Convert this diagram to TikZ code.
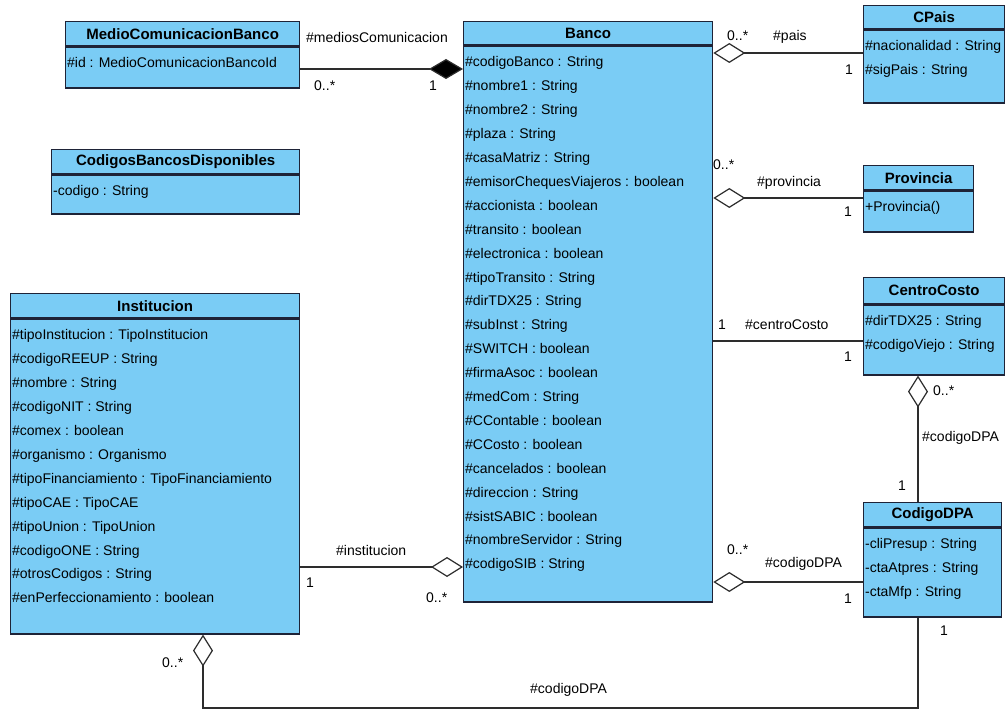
\documentclass[tikz,border=0pt]{standalone}
\usepackage{fontspec}
\setmainfont{Liberation Sans}
\usetikzlibrary{arrows.meta}
\definecolor{azulclase}{RGB}{122,204,245}
\definecolor{bordeclase}{RGB}{30,35,55}
\definecolor{linea}{RGB}{45,45,45}
\newcommand{\atrib}[3]{\parbox[t][#1][t]{#2}{\rule{0pt}{21pt}#3}}
\begin{document}
\begin{tikzpicture}[
  x=1pt, y=-1pt,
  cabecera/.style={draw=bordeclase, fill=azulclase, line width=1.3pt, anchor=north west, inner sep=0pt, font=\fontsize{15}{18}\selectfont\bfseries},
  cuerpo/.style={draw=bordeclase, fill=azulclase, line width=1.3pt, anchor=north west, inner xsep=1.5pt, inner ysep=0pt, font=\fontsize{14}{23.9}\selectfont},
  etiqueta/.style={font=\fontsize{14}{17}\selectfont, inner sep=0pt},
  asoc/.style={draw=linea, line width=1.2pt},
  agreg/.style={asoc, -{Diamond[fill=white, length=32pt, width=20pt, line width=1.2pt]}},
  compos/.style={asoc, -{Diamond[fill=black, length=34pt, width=20pt]}}
]
\useasboundingbox (0,0) rectangle (1005,711);

\node[cabecera, minimum width=234pt, minimum height=24pt] (medio) at (65,21) {MedioComunicacionBanco};
\node[cuerpo, minimum width=234pt, minimum height=41pt] (medio-at) at (medio.south west)
  {\atrib{41pt}{231pt}{\#id : MedioComunicacionBancoId}};

\node[cabecera, minimum width=248pt, minimum height=24pt] (codigos) at (51,149) {CodigosBancosDisponibles};
\node[cuerpo, minimum width=248pt, minimum height=39pt] (codigos-at) at (codigos.south west)
  {\atrib{39pt}{245pt}{-codigo : String}};

\node[cabecera, minimum width=249pt, minimum height=23pt] (banco) at (463,21) {Banco};
\node[cuerpo, minimum width=249pt, minimum height=556pt] (banco-at) at (banco.south west)
  {\atrib{556pt}{246pt}{\#codigoBanco : String\\
   \#nombre1 : String\\
   \#nombre2 : String\\
   \#plaza : String\\
   \#casaMatriz : String\\
   \#emisorChequesViajeros : boolean\\
   \#accionista : boolean\\
   \#transito : boolean\\
   \#electronica : boolean\\
   \#tipoTransito : String\\
   \#dirTDX25 : String\\
   \#subInst : String\\
   \#SWITCH : boolean\\
   \#firmaAsoc : boolean\\
   \#medCom : String\\
   \#CContable : boolean\\
   \#CCosto : boolean\\
   \#cancelados : boolean\\
   \#direccion : String\\
   \#sistSABIC : boolean\\
   \#nombreServidor : String\\
   \#codigoSIB : String}};

\node[cabecera, minimum width=141pt, minimum height=23pt] (cpais) at (863,5) {CPais};
\node[cuerpo, minimum width=141pt, minimum height=73pt] (cpais-at) at (cpais.south west)
  {\atrib{73pt}{138pt}{\#nacionalidad : String\\ \#sigPais : String}};

\node[cabecera, minimum width=110pt, minimum height=24pt] (provincia) at (863,165) {Provincia};
\node[cuerpo, minimum width=110pt, minimum height=41pt] (provincia-at) at (provincia.south west)
  {\atrib{41pt}{107pt}{+Provincia()}};

\node[cabecera, minimum width=141pt, minimum height=26pt] (centro) at (863,277) {CentroCosto};
\node[cuerpo, minimum width=141pt, minimum height=70pt] (centro-at) at (centro.south west)
  {\atrib{70pt}{138pt}{\#dirTDX25 : String\\ \#codigoViejo : String}};

\node[cabecera, minimum width=138pt, minimum height=24pt] (dpa) at (863,502) {CodigoDPA};
\node[cuerpo, minimum width=138pt, minimum height=89pt] (dpa-at) at (dpa.south west)
  {\atrib{89pt}{135pt}{-cliPresup : String\\ -ctaAtpres : String\\ -ctaMfp : String}};

\node[cabecera, minimum width=289pt, minimum height=24pt] (inst) at (10,293) {Institucion};
\node[cuerpo, minimum width=289pt, minimum height=315pt] (inst-at) at (inst.south west)
  {\atrib{315pt}{286pt}{\#tipoInstitucion : TipoInstitucion\\
   \#codigoREEUP : String\\
   \#nombre : String\\
   \#codigoNIT : String\\
   \#comex : boolean\\
   \#organismo : Organismo\\
   \#tipoFinanciamiento : TipoFinanciamiento\\
   \#tipoCAE : TipoCAE\\
   \#tipoUnion : TipoUnion\\
   \#codigoONE : String\\
   \#otrosCodigos : String\\
   \#enPerfeccionamiento : boolean}};

\draw[compos] (medio-at.east |- 0,69) -- (banco-at.west |- 0,69);
\draw[agreg] (cpais-at.west |- 0,53) -- (banco-at.east |- 0,53);
\draw[agreg] (provincia-at.west |- 0,198) -- (banco-at.east |- 0,198);
\draw[asoc] (centro-at.west |- 0,341) -- (banco-at.east |- 0,341);
\draw[agreg] (dpa-at.west |- 0,582) -- (banco-at.east |- 0,582);
\draw[agreg] (inst-at.east |- 0,567) -- (banco-at.west |- 0,567);
\draw[agreg] (dpa.north -| 918,0) -- (centro-at.south -| 918,0);
\coordinate (codo1) at (918,708);
\coordinate (codo2) at (203,708);
\draw[agreg] (dpa-at.south -| codo1) -- (codo1) -- (codo2) -- (inst-at.south -| codo2);

\node[etiqueta, anchor=west] (l1) at (306,37) {\#mediosComunicacion};
\node[etiqueta, anchor=west] (l2) at (314,86) {0..*};
\node[etiqueta] (l3) at (433,86) {1};
\node[etiqueta, anchor=west] (l4) at (727,36) {0..*};
\node[etiqueta, anchor=west] (l5) at (773,37) {\#pais};
\node[etiqueta] (l6) at (849,70) {1};
\node[etiqueta, anchor=west] (l7) at (713,165) {0..*};
\node[etiqueta, anchor=west] (l8) at (757,183) {\#provincia};
\node[etiqueta] (l9) at (848,212) {1};
\node[etiqueta] (l10) at (722,325) {1};
\node[etiqueta, anchor=west] (l11) at (745,325) {\#centroCosto};
\node[etiqueta] (l12) at (848,357) {1};
\node[etiqueta, anchor=west] (l13) at (727,550) {0..*};
\node[etiqueta, anchor=west] (l14) at (765,564) {\#codigoDPA};
\node[etiqueta] (l15) at (848,599) {1};
\node[etiqueta, anchor=west] (l16) at (933,391) {0..*};
\node[etiqueta, anchor=west] (l17) at (922,438) {\#codigoDPA};
\node[etiqueta] (l18) at (902,486) {1};
\node[etiqueta] (l19) at (944,631) {1};
\node[etiqueta, anchor=west] (l20) at (530,690) {\#codigoDPA};
\node[etiqueta, anchor=west] (l21) at (162,663) {0..*};
\node[etiqueta, anchor=west] (l22) at (336,550) {\#institucion};
\node[etiqueta] (l23) at (310,583) {1};
\node[etiqueta, anchor=west] (l24) at (426,598) {0..*};
\end{tikzpicture}
\end{document}
